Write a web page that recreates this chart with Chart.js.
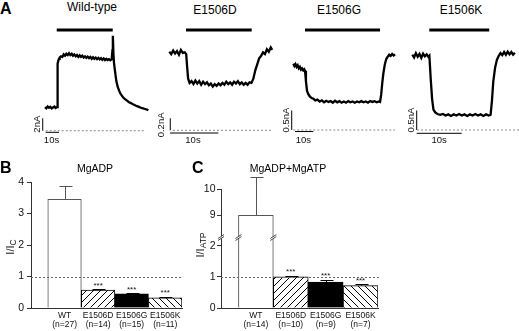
<!DOCTYPE html>
<html>
<head>
<meta charset="utf-8">
<script src="https://cdn.jsdelivr.net/npm/chart.js@4.4.0/dist/chart.umd.min.js"></script>
<style>
  html, body { margin: 0; padding: 0; background: #fff; }
  #fig { position: relative; width: 519px; height: 331px; overflow: hidden; font-family: 'Liberation Sans', Arial, sans-serif; color: #000; }
  #fig canvas { position: absolute; }
  .lbl { position: absolute; white-space: nowrap; z-index: 2; }
  .panel { font-weight: bold; font-size: 16px; line-height: 16px; }
  .ttl { font-size: 12px; line-height: 12px; transform: translateX(-50%); }
  .sub { font-size: 10.5px; line-height: 10px; transform: translateX(-50%); }
</style>
</head>
<body>
<div id="fig">
  <canvas id="trWT" width="127" height="130" style="left:28px;top:18px"></canvas>
  <canvas id="trD" width="120" height="130" style="left:155px;top:18px"></canvas>
  <canvas id="trG" width="120" height="130" style="left:280px;top:18px"></canvas>
  <canvas id="trK" width="119" height="130" style="left:400px;top:18px"></canvas>
  <canvas id="barB" width="190" height="171" style="left:0;top:160px"></canvas>
  <canvas id="barC" width="329" height="171" style="left:190px;top:160px"></canvas>

  <div class="lbl panel" style="left:0;top:1px">A</div>
  <div class="lbl ttl" style="left:92px;top:1px">Wild-type</div>
  <div class="lbl ttl" style="left:215px;top:4px">E1506D</div>
  <div class="lbl ttl" style="left:339px;top:4px">E1506G</div>
  <div class="lbl ttl" style="left:461px;top:4px">E1506K</div>

  <div class="lbl panel" style="left:0;top:160px">B</div>
  <div class="lbl sub" style="left:95px;top:163px">MgADP</div>
  <div class="lbl panel" style="left:192px;top:160px">C</div>
  <div class="lbl sub" style="left:288px;top:163px">MgADP+MgATP</div>
</div>

<script>
// ---------- data: current traces (time in s, current in nA) ----------
const wtTime = [0, 1, 2, 3, 4, 5, 6, 7, 8, 9,
  9.3, 9.6, 10, 10.5, 11, 12, 13, 14, 15, 16, 17, 18, 19, 20, 21, 22, 23, 24, 25, 26, 27, 28, 29, 30,
  31, 32, 33, 34, 35, 36, 37, 38, 39, 40, 41, 42, 43, 44, 45, 46, 47, 48, 49, 50,
  50.6, 50.9, 51.3, 51.8, 52.5, 53.5, 54.5, 55.5, 56.5, 57.5, 58.5, 60, 61.5, 63, 64.5, 66, 67.5,
  69, 70.5, 72, 73.5, 75, 76.5, 77.5];
const wtCurrent = [3.8, 3.6, 3.9, 3.7, 3.85, 3.6, 3.75, 3.9, 3.65, 3.8,
  8.5, 10.8, 11.3, 11.6, 11.8, 12.0, 11.9, 12.3, 12.1, 12.4, 12.2, 12.5, 12.2, 12.4, 12.1, 12.3, 12.0, 12.2, 11.9, 12.15, 11.9, 12.1, 11.8, 12.0,
  11.75, 11.95, 11.7, 11.9, 11.6, 11.85, 11.6, 11.8, 11.55, 11.75, 11.5, 11.7, 11.45, 11.65, 11.4, 11.6, 11.4, 11.55, 11.35, 11.5,
  13.0, 15.3, 12.5, 10.8, 9.6, 8.0, 7.1, 6.5, 6.0, 5.7, 5.4, 5.1, 4.85, 4.6, 4.45, 4.25, 4.1,
  3.95, 3.85, 3.7, 3.6, 3.5, 3.4, 3.3];
const wtPulse = [8.8, 50.8];

const dTime = [0, 0.4, 0.8, 1.2, 1.6, 2.0, 2.4, 2.8, 3.2, 3.5,
  3.7, 3.9, 4.2,
  4.6, 5.0, 5.4, 5.8, 6.2, 6.6, 7.0, 7.4, 7.8, 8.2, 8.6, 9.0, 9.4, 9.8, 10.2, 10.6, 11.0, 11.4, 11.8,
  12.2, 12.6, 13.0, 13.4, 13.8, 14.2, 14.6, 15.0, 15.4, 15.8, 16.2, 16.6, 17.0,
  17.4, 17.8, 18.2, 18.6, 19.0, 19.4, 19.8, 20.2, 20.6, 21.0, 21.3];
const dCurrent = [1.31, 1.27, 1.33, 1.28, 1.32, 1.26, 1.34, 1.29, 1.30, 1.27,
  1.05, 0.86, 0.79,
  0.82, 0.77, 0.83, 0.78, 0.82, 0.76, 0.81, 0.77, 0.80, 0.75, 0.78, 0.73, 0.77, 0.74, 0.78, 0.75, 0.79, 0.76, 0.81,
  0.77, 0.80, 0.76, 0.81, 0.78, 0.82, 0.77, 0.80, 0.76, 0.79, 0.76, 0.80, 0.79,
  0.86, 1.0, 1.1, 1.2, 1.24, 1.30, 1.27, 1.35, 1.31, 1.38, 1.34];
const dPulse = [3.46, 17.06];

const gTime = [0, 0.6, 1.2, 1.8, 2.4, 3.0, 3.6, 4.2, 4.8, 5.4, 6.0, 6.4,
  6.9, 7.5, 8.2, 9.0, 10, 11, 12,
  13.2, 14.4, 15.6, 16.8, 18, 19.2, 20.4, 21.6, 22.8, 24, 25.2, 26.4, 27.6, 28.8, 30, 31.2, 32.4, 33.6,
  34.8, 36, 37.2, 38.4, 39.6, 40.8, 42, 43.2, 44.4, 45.6, 46.8, 47.4,
  48.0, 48.6, 49.2, 50.0, 50.8, 51.6, 52.4, 53.2, 54.0, 54.8, 55.6];
const gCurrent = [1.70, 1.64, 1.69, 1.62, 1.66, 1.58, 1.62, 1.55, 1.58, 1.53, 1.56, 1.52,
  1.25, 1.0, 0.92, 0.86, 0.82, 0.80, 0.76,
  0.78, 0.73, 0.76, 0.71, 0.75, 0.72, 0.74, 0.70, 0.75, 0.71, 0.74, 0.70, 0.73, 0.70, 0.74, 0.71, 0.73, 0.70,
  0.73, 0.71, 0.74, 0.71, 0.73, 0.70, 0.74, 0.72, 0.74, 0.71, 0.73, 0.72,
  0.9, 1.2, 1.45, 1.68, 1.82, 1.88, 1.93, 1.90, 1.95, 1.91, 1.94];
const gPulse = [6.4, 47.4];

const kTime = [0, 0.4, 0.8, 1.2, 1.6, 2.0, 2.4, 2.8, 3.2, 3.6, 3.8,
  4.1, 4.4, 4.7, 5.1, 5.6, 6.2,
  6.8, 7.4, 8.0, 8.6, 9.2, 9.8, 10.4, 11.0, 11.6, 12.2, 12.8, 13.4, 14.0, 14.6, 15.2, 15.8, 16.4, 17.0, 17.4,
  17.7, 18.0, 18.4, 18.8, 19.2, 19.6, 20.0, 20.4, 20.8, 21.2, 21.6, 22.0, 22.4, 22.8];
const kCurrent = [1.93, 1.86, 1.97, 1.88, 1.95, 1.85, 1.96, 1.89, 1.94, 1.87, 1.90,
  1.3, 0.8, 0.52, 0.45, 0.41, 0.39,
  0.41, 0.37, 0.40, 0.36, 0.40, 0.37, 0.41, 0.37, 0.40, 0.36, 0.40, 0.37, 0.41, 0.37, 0.40, 0.36, 0.40, 0.37, 0.39,
  0.75, 1.25, 1.6, 1.8, 1.9, 1.97, 1.92, 2.0, 1.93, 2.01, 1.94, 2.0, 1.93, 1.98];
const kPulse = [3.78, 17.1];

// ---------- data: bar panels ----------
const groups = ['WT', 'E1506D', 'E1506G', 'E1506K'];
const bCounts = ['(n=27)', '(n=14)', '(n=15)', '(n=11)'];
const bMean = [3.45, 0.57, 0.45, 0.32];
const bErr = [0.41, 0.03, 0.02, 0.03];
const cCounts = ['(n=14)', '(n=10)', '(n=9)', '(n=7)'];
const cMean = [9.0, 1.0, 0.83, 0.72];
const cErr = [1.45, 0.04, 0.08, 0.05];
const stars = ['', '***', '***', '***'];

const SANS = "'Liberation Sans', Arial, sans-serif";

// broken axis of panel C
const C_LO_MAX = 2.28;
const C_HI_MIN = 8.18;

function pts(xs, ys) {
  return xs.map((x, i) => ({ x: x, y: ys[i] }));
}

// ---------- panel A ----------
function traceChart(id, time, current, pulse, view, ann) {
  const labels = {
    id: 'traceLabels',
    afterDatasetsDraw(c) {
      const ctx = c.ctx, xs = c.scales.x, ys = c.scales.y;
      ctx.save();
      ctx.fillStyle = '#111';
      ctx.font = '9.5px ' + SANS;
      ctx.textAlign = 'center';
      ctx.textBaseline = 'middle';
      ctx.fillText('10s', xs.getPixelForValue(ann.tLabel[0]), ys.getPixelForValue(ann.tLabel[1]));
      ctx.translate(xs.getPixelForValue(ann.iLabel[0]), ys.getPixelForValue(ann.iLabel[1]));
      ctx.rotate(-Math.PI / 2);
      ctx.fillText(ann.iText, 0, 0);
      ctx.restore();
    }
  };
  const line = (data, color, width, dash) => ({
    data: data, borderColor: color, borderWidth: width, borderDash: dash || [],
    pointRadius: 0, tension: 0, fill: false
  });
  new Chart(document.getElementById(id), {
    type: 'line',
    data: {
      datasets: [
        line(pts(ann.zero, [0, 0]), '#888', 1, [2, 2]),
        line(pts(time, current), '#000', 2.3),
        line(pts(pulse, [ann.pulseLevel, ann.pulseLevel]), '#000', 3),
        line(pts([ann.barT, ann.barT], [0, ann.barSize]), '#000', 1),
        line(pts(ann.tBar, [ann.tBarLevel, ann.tBarLevel]), '#000', 1)
      ]
    },
    options: {
      responsive: false,
      animation: false,
      events: [],
      layout: { padding: 0 },
      plugins: { legend: { display: false }, tooltip: { enabled: false } },
      scales: {
        x: { type: 'linear', display: false, min: view[0], max: view[1] },
        y: { type: 'linear', display: false, min: view[2], max: view[3] }
      }
    },
    plugins: [labels]
  });
}

traceChart('trWT', wtTime, wtCurrent, wtPulse, [-12.75, 82.5, -2.79, 18.18], {
  pulseLevel: 16.24, zero: [0.5, 74.3], barT: -1.7, barSize: 2, iText: '2nA',
  iLabel: [-6, 1.05], tBar: [0.5, 10.5], tBarLevel: -0.26, tLabel: [4.9, -1.5]
});
traceChart('trD', dTime, dCurrent, dPulse, [-2.96, 21.88, -0.295, 1.872], {
  pulseLevel: 1.672, zero: [0.77, 21.3], barT: 0.2, barSize: 0.2, iText: '0.2nA',
  iLabel: [-1.6, 0.09], tBar: [0.14, 10.14], tBarLevel: -0.045, tLabel: [4.9, -0.16]
});
traceChart('trG', gTime, gCurrent, gPulse, [-7.27, 58.3, -0.462, 2.872], {
  pulseLevel: 2.564, zero: [0, 55.6], barT: -0.87, barSize: 0.5, iText: '0.5nA',
  iLabel: [-3.8, 0.256], tBar: [0.93, 10.93], tBarLevel: -0.04, tLabel: [5.46, -0.256]
});
traceChart('trK', kTime, kCurrent, kPulse, [-2.73, 23.71, -0.462, 2.872], {
  pulseLevel: 2.564, zero: [1.04, 23.7], barT: 0.98, barSize: 0.5, iText: '0.5nA',
  iLabel: [-0.13, 0.256], tBar: [0.98, 10.98], tBarLevel: -0.085, tLabel: [5.98, -0.256]
});

// ---------- panels B and C ----------
function hatch(dir) {
  const s = 7, c = document.createElement('canvas');
  c.width = s; c.height = s;
  const g = c.getContext('2d');
  g.fillStyle = '#fff';
  g.fillRect(0, 0, s, s);
  g.strokeStyle = '#000';
  g.lineWidth = 1;
  g.beginPath();
  if (dir === '/') {
    g.moveTo(-1, s + 1); g.lineTo(s + 1, -1);
    g.moveTo(-1, 1); g.lineTo(1, -1);
    g.moveTo(s - 1, s + 1); g.lineTo(s + 1, s - 1);
  } else {
    g.moveTo(-1, -1); g.lineTo(s + 1, s + 1);
    g.moveTo(s - 1, -1); g.lineTo(s + 1, 1);
    g.moveTo(-1, s - 1); g.lineTo(1, s + 1);
  }
  g.stroke();
  return g.createPattern(c, 'repeat');
}
const fills = ['#fff', hatch('/'), '#000', hatch('\\')];
const edges = ['#555', '#000', '#000', '#000'];

function errorBar(ctx, x, y0, y1, color) {
  const px = Math.round(x) + 0.5;
  ctx.strokeStyle = color;
  ctx.lineWidth = 1;
  ctx.beginPath();
  ctx.moveTo(px, y0);
  ctx.lineTo(px, Math.round(y1) + 0.5);
  ctx.moveTo(px - 6, Math.round(y1) + 0.5);
  ctx.lineTo(px + 7, Math.round(y1) + 0.5);
  ctx.stroke();
}

function ratioLabel(ctx, x, y, sub) {
  ctx.save();
  ctx.translate(x, y);
  ctx.rotate(-Math.PI / 2);
  ctx.fillStyle = '#111';
  ctx.textBaseline = 'middle';
  ctx.textAlign = 'left';
  ctx.font = '11px ' + SANS;
  const w1 = ctx.measureText('I/I').width;
  ctx.font = '8.5px ' + SANS;
  const w2 = ctx.measureText(sub).width;
  const x0 = -(w1 + w2) / 2;
  ctx.font = '11px ' + SANS;
  ctx.fillText('I/I', x0, 0);
  ctx.font = '8.5px ' + SANS;
  ctx.fillText(sub, x0 + w1, 3);
  ctx.restore();
}

function dottedOne(ctx, scale, area) {
  const y = Math.round(scale.getPixelForValue(1)) + 0.5;
  ctx.save();
  ctx.strokeStyle = '#666';
  ctx.lineWidth = 1;
  ctx.setLineDash([2, 2]);
  ctx.beginPath();
  ctx.moveTo(area.left, y);
  ctx.lineTo(area.right + 1, y);
  ctx.stroke();
  ctx.restore();
}

function drawStars(ctx, x, yCap, text) {
  if (!text) return;
  ctx.save();
  ctx.fillStyle = '#111';
  ctx.font = '8px ' + SANS;
  ctx.textAlign = 'center';
  ctx.textBaseline = 'alphabetic';
  ctx.fillText(text, x, yCap - 0.5);
  ctx.restore();
}

function xAxis(counts) {
  return {
    type: 'linear', min: -1, max: 3.5, offset: false,
    grid: { drawOnChartArea: false, drawTicks: false },
    border: { color: '#333', width: 1 },
    ticks: {
      stepSize: 1, includeBounds: false, autoSkip: false, maxRotation: 0, padding: 3,
      color: '#111', font: { family: SANS, size: 8.5, lineHeight: 1.06 },
      callback: v => (Number.isInteger(v) && v >= 0 && v < groups.length) ? [groups[v], counts[v]] : ''
    },
    afterFit: s => { s.height = 23; }
  };
}

function yAxis(min, max, pad, extra) {
  return Object.assign({
    type: 'linear', position: 'left', min: min, max: max,
    grid: { drawOnChartArea: false, drawTicks: true, tickLength: 4, color: '#333' },
    border: { color: '#333', width: 1 },
    ticks: { stepSize: 1, includeBounds: false, padding: pad, color: '#111', font: { family: SANS, size: 10.5 } },
    afterFit: s => { s.width = 31; }
  }, extra || {});
}

const baseOptions = {
  responsive: false,
  animation: false,
  events: [],
  plugins: { legend: { display: false }, tooltip: { enabled: false } }
};

// panel B
new Chart(document.getElementById('barB'), {
  type: 'bar',
  data: {
    datasets: [{
      data: pts([0, 1, 2, 3], bMean),
      backgroundColor: fills, borderColor: edges, borderWidth: 1,
      barPercentage: 1, categoryPercentage: 1, grouped: false
    }]
  },
  options: Object.assign({}, baseOptions, {
    layout: { padding: { top: 22, right: 8, left: 0, bottom: 0 } },
    scales: { x: xAxis(bCounts), y: yAxis(0, 4, 3) }
  }),
  plugins: [{
    id: 'bExtras',
    afterDatasetsDraw(c) {
      const ctx = c.ctx, y = c.scales.y, bars = c.getDatasetMeta(0).data;
      dottedOne(ctx, y, c.chartArea);
      bars.forEach((bar, i) => {
        const cap = y.getPixelForValue(bMean[i] + bErr[i]);
        errorBar(ctx, bar.x, bar.y, cap, edges[i]);
        drawStars(ctx, bar.x, cap - 1, stars[i]);
      });
      ratioLabel(ctx, 10.5, 87, 'C');
    }
  }]
});

// panel C (broken y axis: two stacked scales)
new Chart(document.getElementById('barC'), {
  type: 'bar',
  data: {
    datasets: [{
      yAxisID: 'yLo',
      data: pts([0, 1, 2, 3], cMean.map(v => Math.min(v, C_LO_MAX))),
      backgroundColor: fills, borderColor: edges,
      borderWidth: ctx => cMean[ctx.dataIndex] > C_LO_MAX ? { left: 1, right: 1, top: 0, bottom: 0 } : 1,
      barPercentage: 1, categoryPercentage: 1, grouped: false
    }, {
      yAxisID: 'yHi',
      base: C_HI_MIN,
      data: pts([0, 1, 2, 3], cMean).filter(p => p.y > C_LO_MAX),
      backgroundColor: '#fff', borderColor: edges[0],
      borderWidth: { left: 1, right: 1, top: 1, bottom: 0 },
      barPercentage: 1, categoryPercentage: 1, grouped: false
    }]
  },
  options: Object.assign({}, baseOptions, {
    layout: { padding: { top: 29, right: 141, left: 0, bottom: 0 } },
    scales: {
      x: xAxis(cCounts),
      yLo: yAxis(0, C_LO_MAX, 1.5, { stack: 'c', stackWeight: 71 }),
      yHi: yAxis(C_HI_MIN, 10, 1.5, { stack: 'c', stackWeight: 48 })
    }
  }),
  plugins: [{
    id: 'cExtras',
    afterDatasetsDraw(c) {
      const ctx = c.ctx, lo = c.scales.yLo, hi = c.scales.yHi;
      const bars = c.getDatasetMeta(0).data;
      dottedOne(ctx, lo, c.chartArea);
      bars.forEach((bar, i) => {
        const onHi = cMean[i] > C_LO_MAX;
        const s = onHi ? hi : lo;
        const top = s.getPixelForValue(cMean[i]);
        const cap = s.getPixelForValue(cMean[i] + cErr[i]);
        errorBar(ctx, bar.x, top, cap, edges[i]);
        drawStars(ctx, bar.x, cap - 1, stars[i]);
      });
      // break marks on the axis and on the broken bar
      const yb = Math.min(lo.top, hi.bottom);
      const marks = [c.chartArea.left];
      bars.forEach((bar, i) => {
        if (cMean[i] > C_LO_MAX) marks.push(bar.x - bar.width / 2, bar.x + bar.width / 2);
      });
      ctx.save();
      marks.forEach(x => {
        ctx.fillStyle = '#fff';
        ctx.beginPath();
        ctx.moveTo(x - 3, yb + 1.5); ctx.lineTo(x + 3, yb - 2.5);
        ctx.lineTo(x + 3, yb - 0.5); ctx.lineTo(x - 3, yb + 3.5);
        ctx.closePath();
        ctx.fill();
        ctx.strokeStyle = '#333';
        ctx.lineWidth = 0.9;
        ctx.beginPath();
        ctx.moveTo(x - 3, yb + 1.5); ctx.lineTo(x + 3, yb - 2.5);
        ctx.moveTo(x - 3, yb + 3.5); ctx.lineTo(x + 3, yb - 0.5);
        ctx.stroke();
      });
      ctx.restore();
      ratioLabel(ctx, 10.5, 85, 'ATP');
    }
  }]
});
</script>
</body>
</html>
